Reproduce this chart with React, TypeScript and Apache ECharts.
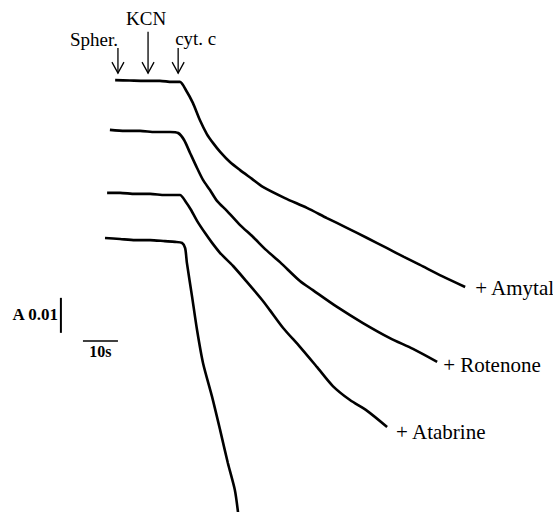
import React, { useEffect, useRef } from "react";
import * as echarts from "echarts";

// time in seconds, absorbance change in milli-absorbance units (mA)
const amytalTime = [2.9, 7.1, 11.4, 15.7, 19.1, 21.4, 23.1, 25.1, 27.1, 29.1, 30.9, 32.9, 35.7, 38.6, 42.0, 45.1, 51.4, 57.7, 63.4, 69.1, 74.9, 80.6, 85.4, 90.0, 96.3, 102.9];
const amytalAbs = [57.1, 57.0, 56.9, 56.9, 56.6, 56.6, 54.3, 50.6, 45.7, 41.7, 39.1, 36.6, 33.7, 31.4, 28.9, 26.6, 23.4, 20.6, 17.7, 14.9, 12.0, 9.1, 6.6, 4.3, 1.1, -2.0];

const rotenoneTime = [1.4, 5.7, 10.0, 14.3, 18.6, 20.9, 22.6, 24.3, 26.3, 28.0, 30.0, 32.0, 34.9, 38.6, 42.3, 46.0, 50.0, 55.7, 59.4, 66.3, 73.7, 81.4, 88.0, 94.9];
const rotenoneAbs = [42.9, 42.6, 42.6, 42.3, 42.3, 42.0, 40.0, 36.3, 32.0, 28.6, 25.7, 22.6, 19.7, 15.7, 12.3, 8.6, 5.1, -0.3, -2.9, -7.7, -12.3, -16.6, -19.7, -23.4];

const atabrineTime = [0.6, 4.3, 8.6, 12.9, 17.1, 21.4, 23.1, 24.6, 26.3, 28.6, 30.6, 32.9, 36.6, 40.6, 44.9, 47.1, 50.9, 55.7, 60.6, 65.1, 70.0, 74.9, 80.6];
const atabrineAbs = [24.9, 24.9, 24.6, 24.6, 24.3, 24.3, 22.3, 20.0, 16.9, 13.4, 10.6, 7.7, 4.0, -0.6, -5.7, -8.6, -13.7, -19.1, -24.9, -30.3, -34.3, -37.4, -42.0];

const controlTime = [0, 4.3, 8.6, 12.9, 17.1, 20.0, 22.0, 22.9, 23.4, 24.9, 26.3, 28.0, 30.6, 32.9, 35.1, 37.1, 38.0];
const controlAbs = [12.0, 11.7, 11.4, 11.4, 11.1, 10.9, 10.6, 9.1, 4.9, -4.9, -14.3, -23.7, -33.4, -42.9, -52.3, -60.0, -66.3];

const traceLabels = ["+ Amytal", "+ Rotenone", "+ Atabrine", ""];

// additions (arrows)
const additionNames = ["Spher.", "KCN", "cyt. c"];
const additionTimes = [3.7, 12.3, 20.9];
const arrowTailAbs = [66.3, 70.9, 66.3];
const arrowTipAbs = 59.1;

// scale bars
const scaleAbsLabel = "A 0.01";
const scaleAbsSize = 10; // mA
const scaleTimeLabel = "10s";
const scaleTimeSize = 10; // s

// styles / layout (pixel offsets)
const labelOffsets = [[10, 1], [6, 3], [9, 5], [0, 0]];
const SERIF = "Liberation Serif";

export default function App() {
  const ref = useRef<HTMLDivElement>(null);

  useEffect(() => {
    if (!ref.current) return;
    const chart = echarts.init(ref.current, null, { renderer: "svg" });
    const traces = [
      [amytalTime, amytalAbs],
      [rotenoneTime, rotenoneAbs],
      [atabrineTime, atabrineAbs],
      [controlTime, controlAbs],
    ];
    chart.setOption({
      animation: false,
      backgroundColor: "#fff",
      grid: { left: 0, right: 0, top: 0, bottom: 0 },
      xAxis: { type: "value", min: -30, max: 128, show: false },
      yAxis: { type: "value", min: 80 - 512 / 3.5, max: 80, show: false },
      series: traces.map(([t, a], i) => ({
        type: "line",
        name: traceLabels[i] || "control",
        data: t.map((v, j) => [v, a[j]]),
        showSymbol: false,
        smooth: 0.25,
        lineStyle: { color: "#000", width: 2.6 },
        silent: true,
      })),
    });

    const px = (t: number, a: number) => chart.convertToPixel({ gridIndex: 0 }, [t, a]) as number[];
    const graphic: any[] = [];

    // trace end labels
    traces.forEach(([t, a], i) => {
      if (!traceLabels[i]) return;
      const p = px(t[t.length - 1], a[a.length - 1]);
      graphic.push({
        type: "text",
        x: p[0] + labelOffsets[i][0],
        y: p[1] + labelOffsets[i][1],
        style: {
          text: traceLabels[i],
          fill: "#000",
          fontFamily: SERIF,
          fontSize: 21,
          textAlign: "left",
          textVerticalAlign: "middle",
        },
      });
    });

    // arrows
    const textAlign = ["right", "center", "left"];
    const textDx = [0, -2, -3];
    const textDy = [-8, -13, -9];
    additionTimes.forEach((t, i) => {
      const tail = px(t, arrowTailAbs[i]);
      const tip = px(t, arrowTipAbs);
      graphic.push({
        type: "line",
        shape: { x1: tail[0], y1: tail[1], x2: tip[0], y2: tip[1] },
        style: { stroke: "#000", lineWidth: 1.3 },
      });
      graphic.push({
        type: "polyline",
        shape: { points: [[tip[0] - 6, tip[1] - 11], [tip[0], tip[1]], [tip[0] + 6, tip[1] - 11]] },
        style: { stroke: "#000", lineWidth: 1.3, fill: "none" },
      });
      graphic.push({
        type: "text",
        x: tail[0] + textDx[i],
        y: tail[1] + textDy[i],
        style: {
          text: additionNames[i],
          fill: "#000",
          fontFamily: SERIF,
          fontSize: 19,
          textAlign: textAlign[i],
          textVerticalAlign: "middle",
        },
      });
    });

    // absorbance scale bar
    const vb0 = px(-12.6, -15.1);
    const vb1 = px(-12.6, -15.1 + scaleAbsSize);
    graphic.push({
      type: "line",
      shape: { x1: vb0[0], y1: vb0[1], x2: vb1[0], y2: vb1[1] },
      style: { stroke: "#000", lineWidth: 2 },
    });
    graphic.push({
      type: "text",
      x: vb0[0] - 3,
      y: (vb0[1] + vb1[1]) / 2 - 1,
      style: {
        text: scaleAbsLabel,
        fill: "#000",
        fontFamily: SERIF,
        fontWeight: "bold",
        fontSize: 17,
        textAlign: "right",
        textVerticalAlign: "middle",
      },
    });

    // time scale bar
    const hb0 = px(-6.3, -17.4);
    const hb1 = px(-6.3 + scaleTimeSize, -17.4);
    graphic.push({
      type: "line",
      shape: { x1: hb0[0], y1: hb0[1], x2: hb1[0], y2: hb1[1] },
      style: { stroke: "#000", lineWidth: 1.5 },
    });
    graphic.push({
      type: "text",
      x: (hb0[0] + hb1[0]) / 2,
      y: hb0[1] + 11,
      style: {
        text: scaleTimeLabel,
        fill: "#000",
        fontFamily: SERIF,
        fontWeight: "bold",
        fontSize: 16,
        textAlign: "center",
        textVerticalAlign: "middle",
      },
    });

    chart.setOption({ graphic });

    return () => chart.dispose();
  }, []);

  return (
    <div style={{ position: "absolute", left: 0, top: 0, width: 553, height: 512, background: "#fff" }}>
      <div ref={ref} style={{ width: 553, height: 512 }} />
    </div>
  );
}
